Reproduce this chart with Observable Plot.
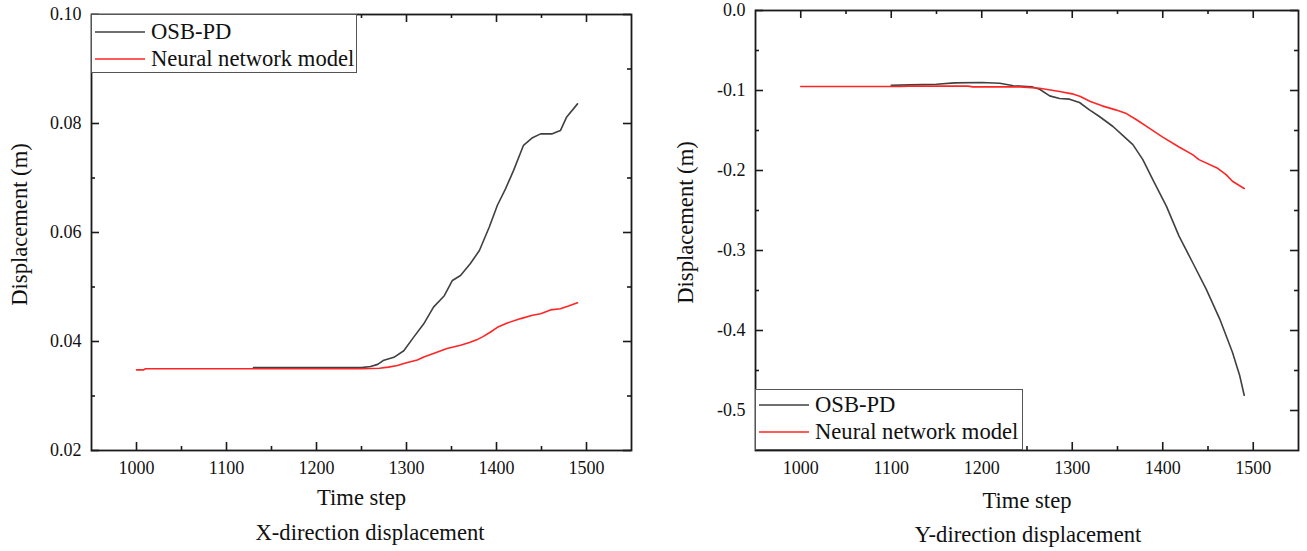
<!DOCTYPE html>
<html>
<head>
<meta charset="utf-8">
<script src="https://cdn.jsdelivr.net/npm/d3@7"></script>
<script src="https://cdn.jsdelivr.net/npm/@observablehq/plot@0.6"></script>
<style>
  html, body { margin: 0; padding: 0; background: #fff; }
  body { width: 1307px; height: 551px; position: relative; overflow: hidden;
         font-family: "Liberation Serif", "LiberationSerif", "Times New Roman", Tinos, "DejaVu Serif", "Noto Serif", serif; color: #111; }
  .panel { position: absolute; top: 0; }
  .panel svg { overflow: visible; }
  .panel svg, .panel svg text { font-family: "Liberation Serif", "LiberationSerif", "Times New Roman", Tinos, "DejaVu Serif", "Noto Serif", serif !important; }
  [aria-label="x-axis label"], [aria-label="y-axis label"] { font-size: 22.6px; }
  .caption { position: absolute; font-size: 22.6px; line-height: 22px; white-space: nowrap;
             transform: translateX(-50%); }
  .legend { position: absolute; background: #fff; border: 1px solid #555; box-sizing: border-box; }
  .legend .row { position: absolute; left: 0; height: 26px; display: flex; align-items: center;
                 font-size: 22.6px; white-space: nowrap; }
  .legend .row svg { display: block; margin-left: 3px; margin-right: 6px; }
</style>
</head>
<body>
<div id="left" class="panel" style="left:0px"></div>
<div id="right" class="panel" style="left:650px"></div>
<script>
// ---------------- data ----------------
const seriesNames = ["OSB-PD", "Neural network model"];
const seriesColors = ["#404040", "#ff2525"];

// X-direction displacement (m)
const xdirTimeOSB = [1130, 1200, 1250, 1260, 1268, 1274, 1286, 1297, 1308, 1319, 1330, 1342, 1351, 1360, 1371, 1381, 1392, 1401, 1410, 1419, 1430, 1440, 1449, 1462, 1471, 1478, 1490];
const xdirDispOSB = [0.0352, 0.0352, 0.0352, 0.0354, 0.0358, 0.0365, 0.0371, 0.0383, 0.0408, 0.0432, 0.0463, 0.0484, 0.0512, 0.0521, 0.0543, 0.0567, 0.0610, 0.0650, 0.0680, 0.0714, 0.0760, 0.0774, 0.0781, 0.0781, 0.0787, 0.0812, 0.0836];
const xdirTimeNN = [1000, 1008, 1010, 1050, 1100, 1150, 1200, 1250, 1270, 1280, 1290, 1300, 1312, 1320, 1330, 1345, 1360, 1370, 1378, 1385, 1393, 1401, 1412, 1427, 1440, 1449, 1460, 1471, 1480, 1490];
const xdirDispNN = [0.0348, 0.0348, 0.0350, 0.0350, 0.0350, 0.0350, 0.0350, 0.0350, 0.0351, 0.0353, 0.0356, 0.0361, 0.0366, 0.0372, 0.0378, 0.0387, 0.0393, 0.0398, 0.0403, 0.0409, 0.0417, 0.0426, 0.0434, 0.0442, 0.0448, 0.0451, 0.0458, 0.0460, 0.0465, 0.0471];

// Y-direction displacement (m)
const ydirTimeOSB = [1100, 1120, 1150, 1170, 1200, 1220, 1235, 1250, 1256, 1264, 1275, 1286, 1297, 1308, 1319, 1330, 1345, 1357, 1367, 1378, 1389, 1404, 1418, 1433, 1448, 1463, 1477, 1485, 1490];
const ydirDispOSB = [-0.0935, -0.0930, -0.0922, -0.0905, -0.0900, -0.0910, -0.0940, -0.0950, -0.0955, -0.0984, -0.1067, -0.1100, -0.1108, -0.1150, -0.1242, -0.1325, -0.1450, -0.1574, -0.1677, -0.1864, -0.2113, -0.2446, -0.2820, -0.3150, -0.3483, -0.3857, -0.4271, -0.4563, -0.4810];
const ydirTimeNN = [1000, 1110, 1120, 1185, 1190, 1242, 1264, 1286, 1300, 1309, 1320, 1333, 1348, 1359, 1371, 1385, 1400, 1418, 1433, 1440, 1460, 1470, 1477, 1490];
const ydirDispNN = [-0.0950, -0.0950, -0.0945, -0.0945, -0.0955, -0.0955, -0.0972, -0.1013, -0.1042, -0.1076, -0.1138, -0.1192, -0.1242, -0.1283, -0.1366, -0.1470, -0.1582, -0.1706, -0.1802, -0.1864, -0.1968, -0.2051, -0.2134, -0.2225];

// axes
const timeDomain = [950, 1550];
const timeTicks = [1000, 1100, 1200, 1300, 1400, 1500];
const timeMinor = [1050, 1150, 1250, 1350, 1450];
const xdirDomain = [0.02, 0.10];
const xdirTicks = [0.02, 0.04, 0.06, 0.08, 0.10];
const xdirMinor = [0.03, 0.05, 0.07, 0.09];
const ydirDomain = [-0.55, 0];
const ydirTicks = [0, -0.1, -0.2, -0.3, -0.4, -0.5];
const ydirMinor = [-0.05, -0.15, -0.25, -0.35, -0.45];
const xLabel = "Time step";
const yLabel = "Displacement (m)";
const captions = ["X-direction displacement", "Y-direction displacement"];

// ---------------- drawing ----------------
const H = 515, MB = 65;
const ink = "#1a1a1a";
const serif = '"Liberation Serif", "LiberationSerif", "Times New Roman", Tinos, "DejaVu Serif", "Noto Serif", serif';

function makeChart(cfg) {
  const plotH = H - cfg.marginTop - MB;
  const plotW = cfg.width - cfg.marginLeft - cfg.marginRight;
  const osb = cfg.tA.map((t, i) => ({t, v: cfg.vA[i]}));
  const nn = cfg.tB.map((t, i) => ({t, v: cfg.vB[i]}));
  const tk = {stroke: ink, strokeWidth: 1.6};
  const svg = Plot.plot({
    width: cfg.width, height: H,
    marginLeft: cfg.marginLeft, marginRight: cfg.marginRight,
    marginTop: cfg.marginTop, marginBottom: MB,
    style: {fontFamily: serif, fontSize: "18px", color: "#111", background: "#fff"},
    x: {domain: timeDomain},
    y: {domain: cfg.yDomain},
    marks: [
      Plot.line(osb, {x: "t", y: "v", stroke: seriesColors[0], strokeWidth: 1.6}),
      Plot.line(nn, {x: "t", y: "v", stroke: seriesColors[1], strokeWidth: 1.6}),
      // inward ticks, mirrored on all four sides
      Plot.tickX(timeTicks, {x: d => d, insetTop: plotH - 8, ...tk}),
      Plot.tickX(timeTicks, {x: d => d, insetBottom: plotH - 8, ...tk}),
      Plot.tickX(timeMinor, {x: d => d, insetTop: plotH - 4, ...tk}),
      Plot.tickX(timeMinor, {x: d => d, insetBottom: plotH - 4, ...tk}),
      Plot.tickY(cfg.yTicks, {y: d => d, insetRight: plotW - 8, ...tk}),
      Plot.tickY(cfg.yTicks, {y: d => d, insetLeft: plotW - 8, ...tk}),
      Plot.tickY(cfg.yMinor, {y: d => d, insetRight: plotW - 4, ...tk}),
      Plot.tickY(cfg.yMinor, {y: d => d, insetLeft: plotW - 4, ...tk}),
      Plot.axisX(timeTicks, {tickSize: 0, tickPadding: 11, tickFormat: d => String(d), fontFamily: serif,
        label: xLabel, labelArrow: "none", labelAnchor: "center", labelOffset: cfg.xLabelOffset}),
      Plot.axisY(cfg.yTicks, {tickSize: 0, tickPadding: 10, tickFormat: cfg.fmt, fontFamily: serif,
        label: yLabel, labelArrow: "none", labelAnchor: "center", labelOffset: cfg.yLabelOffset}),
      Plot.frame({stroke: ink, strokeWidth: 1.8})
    ]
  });
  // nudge the rotated y label slightly upward, as in the reference
  const yl = svg.querySelector('[aria-label="y-axis label"]');
  if (yl) {
    const t0 = yl.getAttribute("transform") || "";
    yl.setAttribute("transform", (t0 + " translate(0,-8)").trim());
  }
  return svg;
}

function addLegend(parent, left, top, width, height, rowYs) {
  const box = document.createElement("div");
  box.className = "legend";
  Object.assign(box.style, {left: left + "px", top: top + "px", width: width + "px", height: height + "px"});
  seriesNames.forEach((name, i) => {
    const row = document.createElement("div");
    row.className = "row";
    row.style.top = (rowYs[i] - 13) + "px";
    row.innerHTML = `<svg width="50" height="4"><line x1="0" x2="50" y1="2" y2="2" stroke="${seriesColors[i]}" stroke-width="1.6"/></svg><span>${name}</span>`;
    box.appendChild(row);
  });
  parent.appendChild(box);
}

function addCaption(x, y, text) {
  const c = document.createElement("div");
  c.className = "caption";
  c.style.left = x + "px";
  c.style.top = (y - 11) + "px";
  c.textContent = text;
  document.body.appendChild(c);
}

document.getElementById("left").appendChild(makeChart({
  width: 650, marginLeft: 91, marginRight: 19, marginTop: 14,
  tA: xdirTimeOSB, vA: xdirDispOSB, tB: xdirTimeNN, vB: xdirDispNN,
  yDomain: xdirDomain, yTicks: xdirTicks, yMinor: xdirMinor,
  fmt: d => d.toFixed(2), xLabelOffset: 54, yLabelOffset: 81
}));
document.getElementById("right").appendChild(makeChart({
  width: 657, marginLeft: 105, marginRight: 9, marginTop: 10,
  tA: ydirTimeOSB, vA: ydirDispOSB, tB: ydirTimeNN, vB: ydirDispNN,
  yDomain: ydirDomain, yTicks: ydirTicks, yMinor: ydirMinor,
  fmt: d => (Math.abs(d) < 1e-9 ? 0 : d).toFixed(1), xLabelOffset: 57, yLabelOffset: 79
}));

addLegend(document.body, 91, 14, 266, 59, [17, 44]);
addLegend(document.body, 755, 389, 268, 61, [15, 42]);
addCaption(370, 533, captions[0]);
addCaption(1028, 535, captions[1]);
</script>
</body>
</html>
